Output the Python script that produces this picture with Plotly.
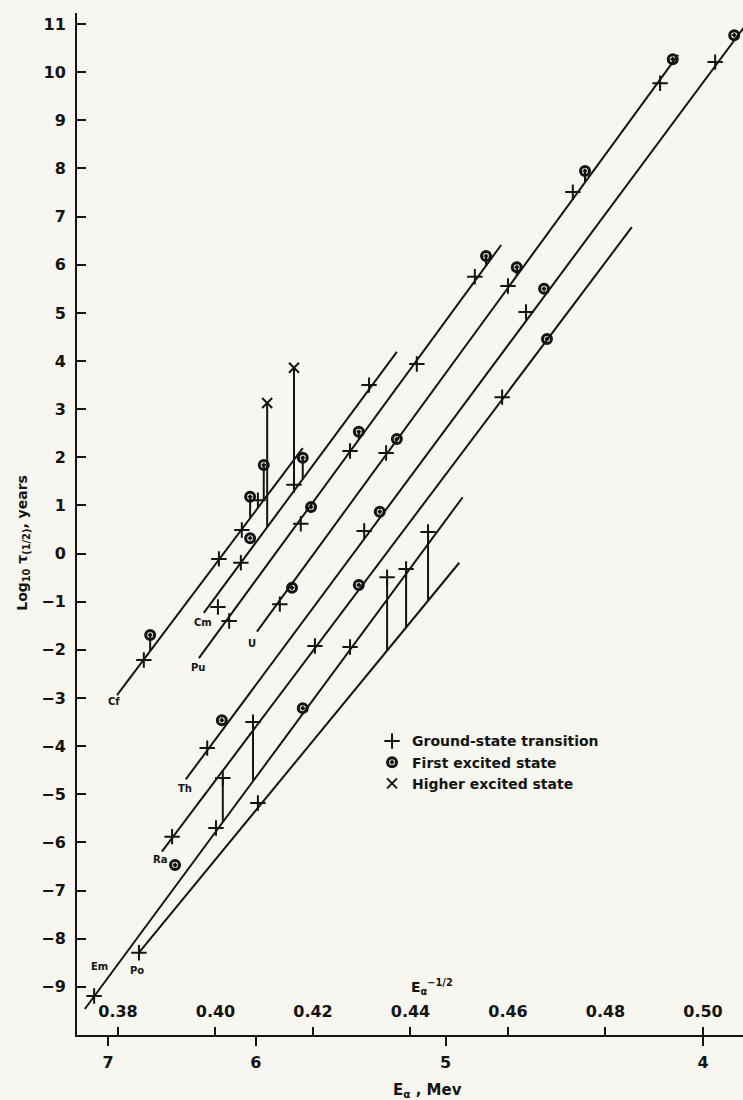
import numpy as np
import plotly.graph_objects as go

# ---- fitted Geiger-Nuttall lines (x = E_alpha^-1/2, y = log10 half-life in years)
line_elements = ["Cf", "Cm", "Pu", "U", "Th", "Ra", "Em", "Po"]
line_x0 = [0.3798, 0.3976, 0.3966, 0.4085, 0.3939, 0.3890, 0.3732, 0.3843]
line_y0 = [-2.94, -1.23, -2.17, -1.62, -4.69, -6.19, -9.46, -8.29]
line_x1 = [0.4179, 0.4372, 0.4586, 0.4949, 0.5100, 0.4854, 0.4507, 0.4500]
line_y1 = [2.19, 4.19, 6.41, 10.36, 11.15, 6.78, 1.17, -0.19]

# label positions of the elements
label_x = [0.3792, 0.3974, 0.3964, 0.4075, 0.3937, 0.3886, 0.3763, 0.3839]
label_y = [-3.08, -1.44, -2.37, -1.86, -4.87, -6.36, -8.58, -8.65]

# ---- ground-state transitions (+)
gs_x = [0.3853, 0.4007, 0.4054, 0.4087,
        0.4005, 0.4052, 0.4161, 0.4315,
        0.4028, 0.4175, 0.4276, 0.4413, 0.4532,
        0.4132, 0.4350, 0.4600, 0.4733, 0.4912,
        0.3983, 0.4305, 0.4637, 0.5025,
        0.3911, 0.4204, 0.4588,
        0.3751, 0.4001, 0.4276, 0.4015, 0.4077,
        0.3843, 0.4087, 0.4352, 0.4391, 0.4436]
gs_y = [-2.21, -0.11, 0.49, 1.11,
        -1.11, -0.19, 1.43, 3.50,
        -1.40, 0.62, 2.13, 3.94, 5.75,
        -1.05, 2.09, 5.56, 7.51, 9.77,
        -4.04, 0.47, 5.02, 10.21,
        -5.88, -1.92, 3.25,
        -9.19, -5.70, -1.94, -4.66, -3.50,
        -8.29, -5.18, -0.49, -0.32, 0.45]

# ---- first excited state (dot)
fe_x = [0.3866, 0.4071, 0.4099,
        0.4071, 0.4179,
        0.4196, 0.4294, 0.4555,
        0.4157, 0.4372, 0.4618, 0.4758, 0.4938,
        0.4013, 0.4337, 0.4674, 0.5064,
        0.3917, 0.4294, 0.4680,
        0.4179]
fe_y = [-1.69, 1.18, 1.84,
        0.32, 1.99,
        0.97, 2.53, 6.18,
        -0.71, 2.38, 5.95, 7.95, 10.27,
        -3.46, 0.87, 5.50, 10.77,
        -6.47, -0.65, 4.46,
        -3.21]

# ---- higher excited state (x)
hx_x = [0.4106, 0.4161]
hx_y = [3.13, 3.86]

# ---- vertical connectors from a point down to its element's line
conn_element = ["Cf", "Cf", "Cf", "Cm", "Cm", "Cm", "Pu", "Pu", "U", "U",
                "Em", "Em", "Po", "Po", "Po"]
conn_x = [0.3866, 0.4071, 0.4099, 0.4106, 0.4161, 0.4179, 0.4294, 0.4555,
          0.4618, 0.4758, 0.4015, 0.4077, 0.4352, 0.4391, 0.4436]
conn_top = [-1.69, 1.18, 1.84, 3.13, 3.86, 1.99, 2.53, 6.18,
            5.95, 7.95, -4.66, -3.50, -0.49, -0.32, 0.45]

# axis ticks
y_ticks = list(range(-10, 12))
x_ticks = [0.38, 0.40, 0.42, 0.44, 0.46, 0.48, 0.50]
E_ticks = [7, 6, 5, 4]

INK = "#141414"
BG = "#f7f6f0"
FONT = "DejaVu Sans"

fig = go.Figure()

# element lines
for el, x0, y0, x1, y1 in zip(line_elements, line_x0, line_y0, line_x1, line_y1):
    fig.add_trace(go.Scatter(x=[x0, x1], y=[y0, y1], mode="lines",
                             line=dict(color=INK, width=2), showlegend=False,
                             hoverinfo="skip", name=el))

# connectors
cx, cy = [], []
for el, x, top in zip(conn_element, conn_x, conn_top):
    i = line_elements.index(el)
    bottom = float(np.interp(x, [line_x0[i], line_x1[i]], [line_y0[i], line_y1[i]]))
    cx += [x, x, None]
    cy += [top, bottom, None]
fig.add_trace(go.Scatter(x=cx, y=cy, mode="lines", line=dict(color=INK, width=2),
                         showlegend=False, hoverinfo="skip"))

fig.add_trace(go.Scatter(x=gs_x, y=gs_y, mode="markers", name="Ground-state transition",
                         marker=dict(symbol="cross-thin", size=11, color=INK,
                                     line=dict(color=INK, width=2))))
fig.add_trace(go.Scatter(x=fe_x, y=fe_y, mode="markers", name="First excited state",
                         marker=dict(symbol="circle-open-dot", size=9, color=INK,
                                     line=dict(color=INK, width=3))))
fig.add_trace(go.Scatter(x=hx_x, y=hx_y, mode="markers", name="Higher excited state",
                         marker=dict(symbol="x-thin", size=10, color=INK,
                                     line=dict(color=INK, width=2))))

# invisible trace on the energy axis
fig.add_trace(go.Scatter(x=[E_ticks[0] ** -0.5], y=[-10], xaxis="x2", mode="markers",
                         marker=dict(opacity=0), showlegend=False, hoverinfo="skip"))

for el, lx, ly in zip(line_elements, label_x, label_y):
    fig.add_annotation(x=lx, y=ly, text=el, showarrow=False,
                       font=dict(family=FONT, size=10, color=INK, weight="bold"))

xr = [0.37159, 0.50821]
fig.update_layout(
    width=743, height=1100,
    margin=dict(l=77, r=0, t=13, b=65),
    paper_bgcolor=BG, plot_bgcolor=BG,
    font=dict(family=FONT, color=INK),
    xaxis=dict(range=xr, tickvals=x_ticks, ticktext=[f"{v:.2f}" for v in x_ticks],
               ticks="inside", ticklen=8, tickwidth=2, tickcolor=INK,
               ticklabelposition="inside", ticklabelstandoff=7,
               showline=True, linewidth=2, linecolor=INK,
               showgrid=False, zeroline=False,
               tickfont=dict(family=FONT, size=16, color=INK, weight="bold")),
    xaxis2=dict(range=xr, overlaying="x", side="bottom", anchor="y",
                tickvals=[e ** -0.5 for e in E_ticks], ticktext=[str(e) for e in E_ticks],
                ticks="outside", ticklen=10, tickwidth=2, tickcolor=INK,
                ticklabelstandoff=3,
                showline=False, showgrid=False, zeroline=False,
                tickfont=dict(family=FONT, size=16, color=INK, weight="bold")),
    yaxis=dict(range=[-10, 11.23], tickvals=y_ticks,
               ticks="inside", ticklen=9, tickwidth=2, tickcolor=INK,
               ticklabelstandoff=6,
               showline=True, linewidth=2, linecolor=INK, showgrid=False, zeroline=False,
               tickfont=dict(family=FONT, size=16, color=INK, weight="bold")),
    legend=dict(x=0.443, y=0.303, xanchor="left", yanchor="top",
                bgcolor="rgba(0,0,0,0)",
                font=dict(family=FONT, size=14, color=INK, weight="bold")),
)

fig.add_annotation(xref="paper", yref="paper", x=-0.097, y=0.482,
                   text="Log<sub>10</sub> τ<sub>(1/2)</sub>, years", textangle=-90,
                   showarrow=False, font=dict(family=FONT, size=14, color=INK, weight="bold"))
fig.add_annotation(xref="paper", yref="paper", x=(428 - 77) / 666, y=-0.066,
                   text="E<sub>α</sub> , Mev", showarrow=False,
                   font=dict(family=FONT, size=15, color=INK, weight="bold"))
fig.add_annotation(x=0.4444, y=-9.0, text="E<sub>α</sub><sup>−1/2</sup>", showarrow=False,
                   font=dict(family=FONT, size=14, color=INK, weight="bold"))

fig.write_html("out.html")
